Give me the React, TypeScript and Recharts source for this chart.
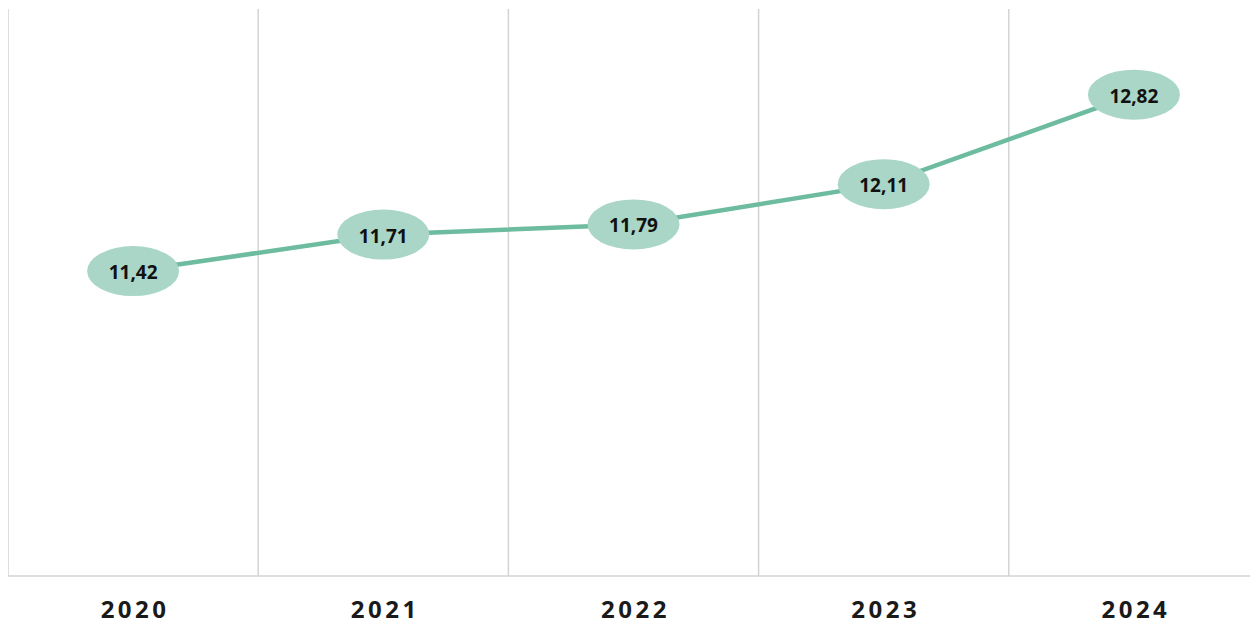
import { LineChart, Line, XAxis, YAxis, CartesianGrid, LabelList } from "recharts"

const years = ["2020", "2021", "2022", "2023", "2024"]
const values = [11.42, 11.71, 11.79, 12.11, 12.82]

const data = years.map((year, i) => ({ year, value: values[i] }))

const LINE = "#6dbc9f"
const BUBBLE = "#a9d6c6"
const GRID = "#d3d3d3"

const fmt = (v: number) => v.toFixed(2).replace(".", ",")

function Bubble(props: any) {
  const { x, y, value } = props
  return (
    <g>
      <ellipse cx={x} cy={y} rx={46} ry={25} fill={BUBBLE} />
      <text
        x={x}
        y={y + 1}
        textAnchor="middle"
        dominantBaseline="central"
        fontFamily="'Open Sans', sans-serif"
        fontWeight={700}
        fontSize={19}
        fill="#111"
      >
        {fmt(value)}
      </text>
    </g>
  )
}

function YearTick(props: any) {
  const { x, y, payload } = props
  return (
    <text
      x={x + 2}
      y={y + 34}
      textAnchor="middle"
      fontFamily="'Open Sans', sans-serif"
      fontWeight={700}
      fontSize={24}
      letterSpacing={3.5}
      fill="#1a1a1a"
    >
      {payload.value}
    </text>
  )
}

export default function App() {
  return (
    <LineChart width={1251} height={630} data={data} margin={{ top: 1, right: 0, left: 0, bottom: 15 }}>
      <CartesianGrid
        horizontal={false}
        stroke={GRID}
        strokeWidth={1.5}
        verticalCoordinatesGenerator={({ offset }: any) =>
          years.map((_, i) => offset.left + (i * offset.width) / years.length)
        }
      />
      <XAxis
        dataKey="year"
        scale="band"
        height={47}
        axisLine={{ stroke: GRID, strokeWidth: 1.5 }}
        tickLine={false}
        tick={<YearTick />}
        interval={0}
      />
      <YAxis hide domain={[9, 13.5]} />
      <Line
        type="linear"
        dataKey="value"
        stroke={LINE}
        strokeWidth={4.5}
        dot={false}
        activeDot={false}
        isAnimationActive={false}
      >
        <LabelList dataKey="value" content={<Bubble />} />
      </Line>
    </LineChart>
  )
}
